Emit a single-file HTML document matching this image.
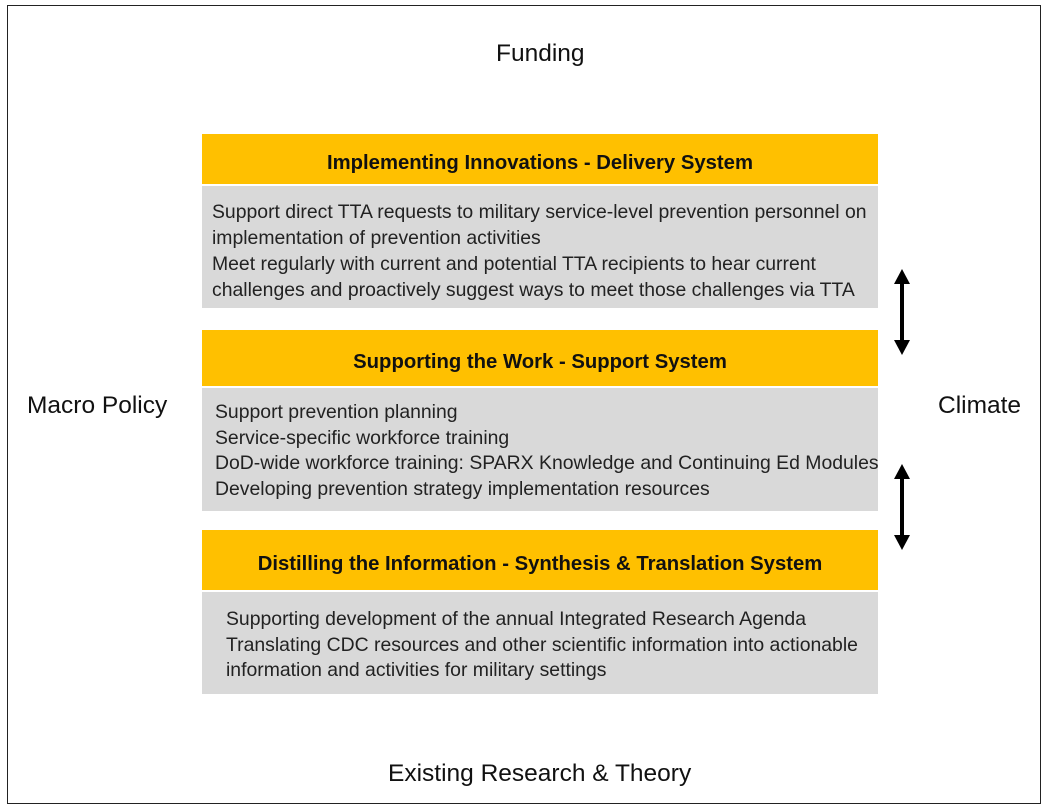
<!DOCTYPE html>
<html><head><style>
body{margin:0;width:1050px;height:811px;background:#fff;font-family:"Liberation Sans",sans-serif;position:relative;overflow:hidden}
.b{position:absolute;left:7px;top:5px;width:1032px;height:797px;border:1.5px solid #222}
.t{position:absolute;font-size:24.5px;color:#111;white-space:nowrap}
.y{position:absolute;left:202px;width:676px;background:#ffc000;font-weight:bold;font-size:20.3px;color:#111;text-align:center;display:flex;align-items:center;justify-content:center;padding-top:8px;box-sizing:border-box}
.g{position:absolute;left:202px;width:676px;background:#d9d9d9;font-size:19.4px;color:#222;box-sizing:border-box;white-space:nowrap}
</style></head><body>
<div class="b"></div>
<div class="t" style="left:496px;top:40px">Funding</div>
<div class="t" style="left:27px;top:392px">Macro Policy</div>
<div class="t" style="left:938px;top:392px">Climate</div>
<div class="t" style="left:388px;top:760px">Existing Research &amp; Theory</div>

<div class="y" style="top:134px;height:50px">Implementing Innovations - Delivery System</div>
<div class="g" style="top:186px;height:122px;padding:13px 0 0 10px;line-height:26px">Support direct TTA requests to military service-level prevention personnel on<br>implementation of prevention activities<br>Meet regularly with current and potential TTA recipients to hear current<br>challenges and proactively suggest ways to meet those challenges via TTA</div>

<div class="y" style="top:330px;height:56px">Supporting the Work - Support System</div>
<div class="g" style="top:388px;height:123px;padding:12px 0 0 13px;line-height:25.5px">Support prevention planning<br>Service-specific workforce training<br>DoD-wide workforce training: SPARX Knowledge and Continuing Ed Modules<br>Developing prevention strategy implementation resources</div>

<div class="y" style="top:530px;height:60px">Distilling the Information - Synthesis &amp; Translation System</div>
<div class="g" style="top:592px;height:102px;padding:15px 0 0 24px;line-height:25.5px">Supporting development of the annual Integrated Research Agenda<br>Translating CDC resources and other scientific information into actionable<br>information and activities for military settings</div>

<svg style="position:absolute;left:0;top:0" width="1050" height="811">
<g stroke="#000" stroke-width="4">
<line x1="902" y1="280" x2="902" y2="345"/>
<line x1="902" y1="475" x2="902" y2="540"/>
</g>
<g fill="#000">
<polygon points="902,269 894,284 910,284"/>
<polygon points="902,355 894,340 910,340"/>
<polygon points="902,464 894,479 910,479"/>
<polygon points="902,550 894,535 910,535"/>
</g>
</svg>
</body></html>
